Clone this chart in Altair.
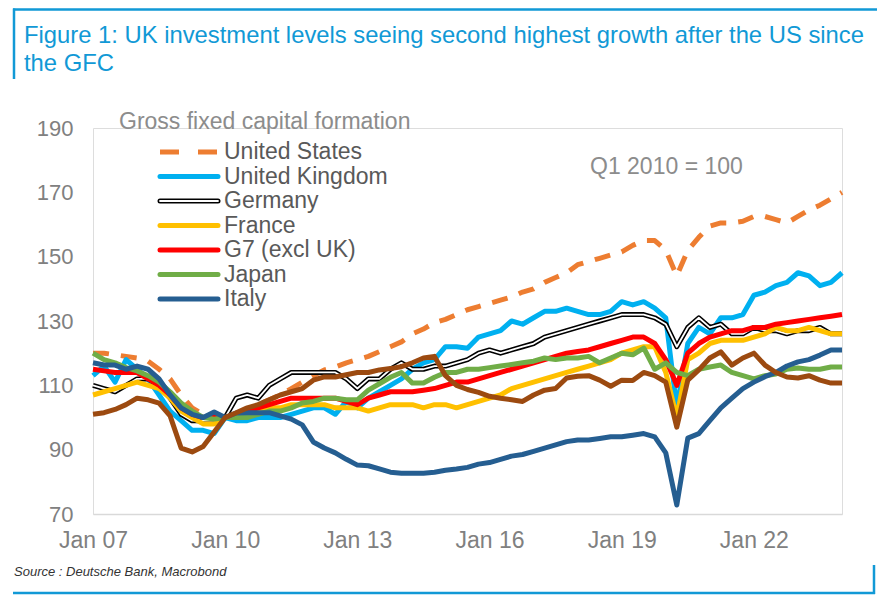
import altair as alt
import pandas as pd

# ---------------- data (quarterly, Q1 2010 = 100) ----------------
quarter_start = [2007 + q / 4 for q in range(69)]  # 2007Q1 ... 2024Q1

united_states = [120, 120, 119.5, 119, 118.5, 117.5, 115, 112, 107, 103,
                 101, 100, 100, 101, 102.5, 104, 105.5, 107, 109, 111,
                 113, 114.8, 115.7, 117, 118, 119, 120.5, 122, 123.5, 126,
                 127.5, 129.5, 130.5, 132, 133.5, 134.5, 135.5, 136.5, 137.5, 139,
                 140, 142, 143.5, 145, 147.5, 148.5, 149.5, 150.5, 151.5, 153.5,
                 155, 155, 152, 144, 152, 156, 159.5, 160.5, 160.5, 161,
                 162.5, 162.5, 161.5, 160.5, 162.5, 164.5, 166, 168, 170]

united_kingdom = [113, 116, 111, 118, 115, 112, 107, 102, 99, 96,
                  96, 95, 100, 99, 99, 100, 100, 100, 101, 102,
                  103, 103, 101, 105, 103, 106, 108, 110, 112, 115,
                  117, 118, 122, 122, 121.5, 125, 126, 127, 130, 129,
                  131, 133, 133, 134, 133, 132, 132, 133, 136, 135,
                  136, 134, 131, 103, 123, 128, 126, 131, 131, 132,
                  138, 139, 141, 142, 145, 144, 141, 142, 145]

germany = [110, 109, 108, 110, 112, 112, 110, 106, 101, 99,
           99, 99, 100, 106, 107, 106, 110, 112, 114, 114,
           114, 114, 114, 112, 109, 112, 112, 115, 117, 115,
           115, 116, 116, 117, 118, 120, 121, 120, 121, 122,
           123, 125, 126, 127, 128, 129, 130, 131, 132, 132,
           132, 131, 129, 122, 128, 131, 128, 129, 126, 126,
           128, 127, 127, 126, 127, 127, 128, 126, 126]

france = [107, 108, 109, 110, 111, 110, 109, 106, 102, 100,
          98, 98, 100, 100, 101, 102, 103, 103, 104, 104,
          104, 104, 103, 103, 103, 102, 103, 104, 104, 104,
          103, 104, 104, 103, 104, 105, 106, 107, 109, 110,
          111, 112, 113, 114, 115, 116, 117, 118, 120, 121,
          122, 122, 114, 100, 118, 120, 123, 124, 124, 124,
          125, 126, 128, 127, 127, 128, 127, 126, 126]

g7_excl_uk = [115, 114.5, 114, 114, 114, 112, 110, 107, 103, 101,
              100, 100, 100, 101, 102, 103, 104, 105, 106, 106,
              106, 106, 106, 105, 104, 106, 107, 108, 108, 108,
              108.5, 109, 110, 111, 111, 112, 113, 114, 115, 116,
              117, 118, 119, 120, 120.5, 121, 122, 123, 124, 125,
              125, 123, 118, 110, 120, 123, 125, 126, 127, 127,
              128, 128, 129, 129.5, 130, 130.5, 131, 131.5, 132]

japan = [120, 118, 117, 115.5, 114.5, 113, 111, 108, 104.5, 102,
         100, 99.5, 100, 100, 100, 101, 102, 102, 103, 104.5,
         105, 106, 106, 105.5, 105.5, 108.5, 110.5, 112.5, 114, 110.7,
         110.7, 112.5, 114, 114, 115, 115, 115.5, 116, 116.5, 117,
         117.5, 118.5, 118, 118.5, 118.5, 119, 117, 118.5, 120, 119.5,
         121.6, 115, 117, 114, 113, 115, 115.7, 116.3, 114, 113,
         112, 113, 113.5, 115, 115.4, 115, 115, 115.7, 115.7]

italy = [117, 116.3, 116.3, 115, 116, 115, 112, 107, 103, 101,
         100, 101.7, 100, 101.4, 101.5, 101.5, 101.5, 100.5, 99.5, 97.7,
         92.4, 90.5, 89, 87, 85.2, 85, 84, 83, 82.7, 82.7,
         82.7, 83, 83.6, 84, 84.5, 85.5, 86, 87, 88, 88.5,
         89.5, 90.5, 91.5, 92.5, 93, 93, 93.5, 94, 94, 94.5,
         95, 94, 89, 72.8, 93.6, 95, 99, 103, 106, 109,
         111, 112.7, 114, 116, 117.3, 118, 119.4, 121, 121]

canada = [101, 101.5, 102.5, 104, 106, 105.5, 104.5, 100.5, 90.5, 89.3,
          91, 95.5, 100, 101.5, 103, 104, 105.5, 107, 108, 109,
          111.6, 112.6, 112.6, 113.3, 114, 114, 114.8, 115.2, 115.8, 117,
          118.5, 119, 113, 110, 108.7, 107.8, 106.6, 106, 105.5, 105,
          107, 108.5, 109, 112.3, 112.8, 113, 111.6, 109.7, 111.6, 111.5,
          114, 113, 111, 97, 111.6, 114.8, 118.5, 120.4, 116.3, 118.5,
          120, 116.3, 114, 112.6, 112.3, 113, 111.6, 110.7, 110.7]

x_tick_years = [2007, 2010, 2013, 2016, 2019, 2022]
y_tick_values = [70, 90, 110, 130, 150, 170, 190]

legend_names = ["United States", "United Kingdom", "Germany", "France",
                "G7 (excl UK)", "Japan", "Italy"]

series_values = {
    "United States": united_states,
    "United Kingdom": united_kingdom,
    "Germany": germany,
    "France": france,
    "G7 (excl UK)": g7_excl_uk,
    "Japan": japan,
    "Italy": italy,
    "Canada": canada,
}

# ---------------- styles ----------------
COLORS = {
    "United States": "#ED7D31",
    "United Kingdom": "#00B0F0",
    "Germany": "#000000",
    "France": "#FFC000",
    "G7 (excl UK)": "#FF0000",
    "Japan": "#70AD47",
    "Italy": "#255E91",
    "Canada": "#9C4A10",
}
BLUE = "#1199D6"
FONT = "Liberation Sans"
LW = 5

rows = []
for name, vals in series_values.items():
    for t, v in zip(quarter_start, vals):
        rows.append({"t": t, "v": v, "series": name})
df = pd.DataFrame(rows)
one_row = pd.DataFrame({"k": [0]})

x_scale = alt.Scale(domain=[2007, 2024], nice=False, zero=False)
y_scale = alt.Scale(domain=[70, 190], nice=False, zero=False)
x_axis = alt.Axis(values=x_tick_years,
                  labelExpr="'Jan ' + substring(toString(datum.value), 2, 4)",
                  title=None, grid=False, ticks=False, domain=True,
                  domainColor="#D9D9D9", domainWidth=1.5,
                  labelFontSize=23, labelColor="#808080", labelFont=FONT,
                  labelPadding=15, labelFlush=False, labelOverlap=False)
y_axis = alt.Axis(values=y_tick_values, title=None, grid=False, ticks=False,
                  domain=False, labelFontSize=22, labelColor="#808080",
                  labelFont=FONT, labelPadding=20)


def series_layer(name, color, width, dash=None):
    kw = dict(color=color, strokeWidth=width, strokeJoin="round")
    if dash:
        kw["strokeDash"] = dash
    return (alt.Chart(df)
            .transform_filter(alt.datum.series == name)
            .mark_line(**kw)
            .encode(x=alt.X("t:Q", scale=x_scale, axis=x_axis),
                    y=alt.Y("v:Q", scale=y_scale, axis=y_axis)))


def text_at(x, y, s, size, color, style="normal", align="left"):
    return (alt.Chart(one_row)
            .mark_text(fontSize=size, color=color, align=align, baseline="middle",
                       font=FONT, fontStyle=style)
            .encode(x=alt.value(x), y=alt.value(y), text=alt.value(s)))


def text_base(x, y, s, size, color):
    return (alt.Chart(one_row)
            .mark_text(fontSize=size, color=color, align="left",
                       baseline="alphabetic", font=FONT)
            .encode(x=alt.value(x), y=alt.value(y), text=alt.value(s)))


def rule_at(x1, x2, y1, y2, color, width, dash=None, cap="butt"):
    kw = dict(color=color, strokeWidth=width, strokeCap=cap)
    if dash:
        kw["strokeDash"] = dash
    return (alt.Chart(one_row).mark_rule(**kw)
            .encode(x=alt.value(x1), x2=alt.value(x2),
                    y=alt.value(y1), y2=alt.value(y2)))


layers = [
    series_layer("United States", COLORS["United States"], LW, [16, 12]),
    series_layer("United Kingdom", COLORS["United Kingdom"], LW),
    series_layer("Germany", COLORS["Germany"], 5),
    series_layer("Germany", "#FFFFFF", 1.8),
    series_layer("France", COLORS["France"], LW),
    series_layer("G7 (excl UK)", COLORS["G7 (excl UK)"], LW),
    series_layer("Japan", COLORS["Japan"], LW),
    series_layer("Italy", COLORS["Italy"], LW),
    series_layer("Canada", COLORS["Canada"], LW),
]

# legend (coordinates relative to plot origin)
layers.append(text_at(26, -6, "Gross fixed capital formation", 23, "#8C8C8C"))
row_y = [24, 48.5, 73, 97.5, 122, 146.5, 171]
for name, yy in zip(legend_names, row_y):
    if name == "United States":
        layers.append(rule_at(67, 125, yy, yy, COLORS[name], LW, [19, 19]))
    elif name == "Germany":
        layers.append(rule_at(67, 125, yy, yy, "#000000", 5, cap="round"))
        layers.append(rule_at(67, 125, yy, yy, "#FFFFFF", 1.8, cap="round"))
    else:
        layers.append(rule_at(67, 125, yy, yy, COLORS[name], LW, cap="round"))
    layers.append(text_at(131, yy, name, 23, "#595959"))

layers.append(text_at(497, 39, "Q1 2010 = 100", 23, "#8C8C8C"))

# title, frame and source
layers.append(text_base(-69, -85,
                        "Figure 1: UK investment levels seeing second highest growth after the US since",
                        23.8, BLUE))
layers.append(text_base(-69, -57, "the GFC", 23.8, BLUE))
layers.append(rule_at(-80, 784, -118.5, -118.5, BLUE, 2.5))
layers.append(rule_at(-79, -79, -119.5, -49, BLUE, 2.5))
layers.append(rule_at(-80, 782, 465, 465, BLUE, 2.5))
layers.append(rule_at(781, 781, 437, 466, BLUE, 2.5))
layers.append(text_at(-79, 444, "Source : Deutsche Bank, Macrobond", 13, "#333333", style="italic"))

chart = (alt.layer(*layers)
         .properties(width=749, height=386,
                     padding={"left": 85, "top": 120, "right": 35, "bottom": 82},
                     autosize=alt.AutoSizeParams(type="none"),
                     background="white")
         .configure_view(stroke=None)
         .configure(font=FONT))

chart.save("out.html", embed_options={"renderer": "svg", "actions": False})
